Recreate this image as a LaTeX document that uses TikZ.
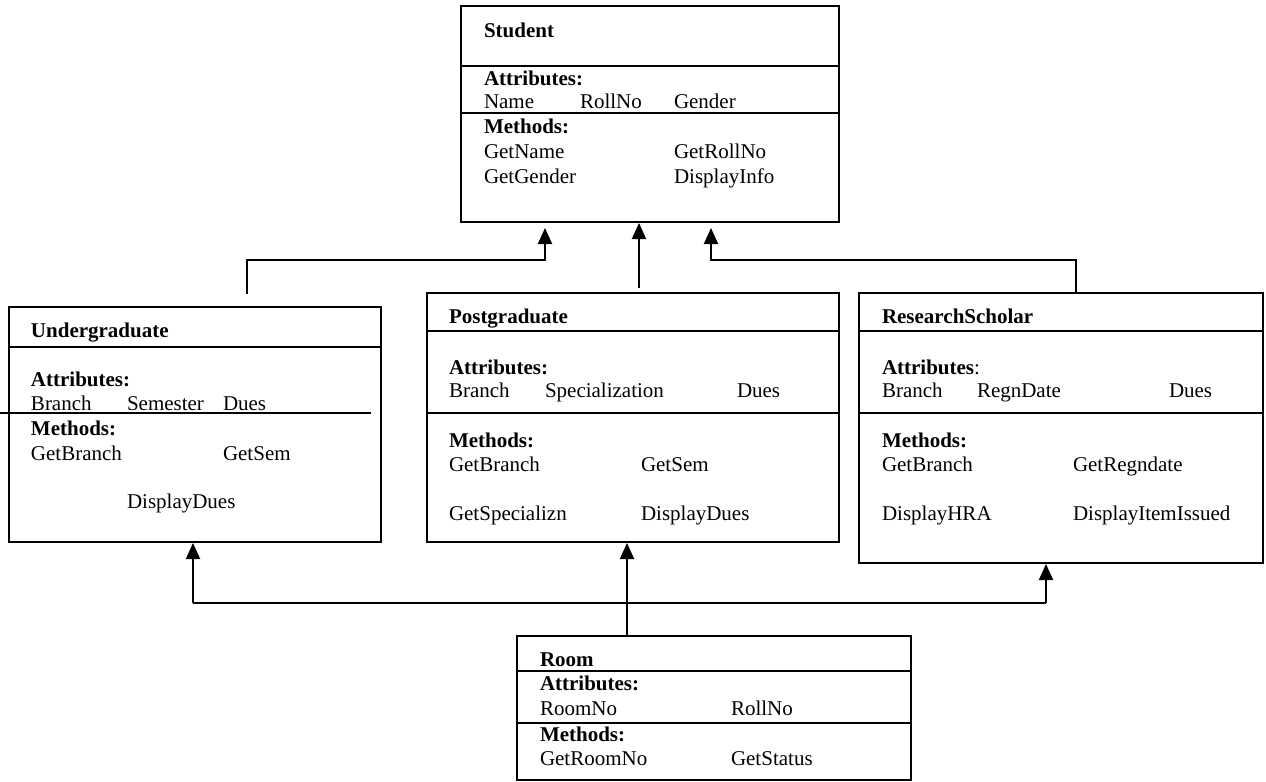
\documentclass[tikz,border=0pt]{standalone}
\usepackage{fontspec}
\setmainfont{Liberation Serif}
\usetikzlibrary{fit,arrows.meta}

\begin{document}
\begin{tikzpicture}
  [x=0.5pt,y=-0.5pt,line width=1pt,
   classbox/.style={draw,rectangle,inner sep=0pt},
   txt/.style={anchor=base west,inner sep=0pt,font=\fontsize{10.5}{12}\selectfont},
   hd/.style={txt,font=\fontsize{10.5}{12}\selectfont\bfseries},
   inh/.style={-{Triangle[width=7pt,length=8pt]}}]
  \useasboundingbox (0,0) rectangle (1266,782);

  \node[classbox,fit={(461,6) (839,222)}] (st) {};
  \node[classbox,fit={(9,307) (381,542)}] (ug) {};
  \node[classbox,fit={(427,293) (839,542)}] (pg) {};
  \node[classbox,fit={(859,293) (1263,563)}] (rs) {};
  \node[classbox,fit={(517,636) (911,780)}] (rm) {};

  \foreach \b/\y in {st/66,st/113,ug/347,pg/331,pg/413,rs/331,rs/413,rm/671,rm/723}
    \draw (\b.west |- 0,\y) -- (\b.east |- 0,\y);
  \draw (0,413) -- (371,413);

  % Student
  \node[hd] (st-t) at (483,37) {Student};
  \node[hd] (st-a) at (483,85) {Attributes:};
  \node[hd] (st-m) at (483,133) {Methods:};
  \foreach \x/\y/\t [count=\i] in {483/108/Name,579/108/RollNo,673/108/Gender,
      483/158/GetName,673/158/GetRollNo,483/183/GetGender,673/183/DisplayInfo}
    \node[txt] (st\i) at (\x,\y) {\t};

  % Undergraduate
  \node[hd] (ug-t) at (30,337) {Undergraduate};
  \node[hd] (ug-a) at (30,386) {Attributes:};
  \node[hd] (ug-m) at (30,435) {Methods:};
  \foreach \x/\y/\t [count=\i] in {30/410/Branch,126/410/Semester,222/410/Dues,
      30/460/GetBranch,222/460/GetSem,126/508/DisplayDues}
    \node[txt] (ug\i) at (\x,\y) {\t};

  % Postgraduate
  \node[hd] (pg-t) at (448,323) {Postgraduate};
  \node[hd] (pg-a) at (448,374) {Attributes:};
  \node[hd] (pg-m) at (448,447) {Methods:};
  \foreach \x/\y/\t [count=\i] in {448/397/Branch,544/397/Specialization,736/397/Dues,
      448/471/GetBranch,640/471/GetSem,448/520/GetSpecializn,640/520/DisplayDues}
    \node[txt] (pg\i) at (\x,\y) {\t};

  % ResearchScholar
  \node[hd] (rs-t) at (881,323) {ResearchScholar};
  \node[txt] (rs-a) at (881,374) {\textbf{Attributes}:};
  \node[hd] (rs-m) at (881,447) {Methods:};
  \foreach \x/\y/\t [count=\i] in {881/397/Branch,976/397/RegnDate,1168/397/Dues,
      881/471/GetBranch,1072/471/GetRegndate,881/520/DisplayHRA,1072/520/DisplayItemIssued}
    \node[txt] (rs\i) at (\x,\y) {\t};

  % Room
  \node[hd] (rm-t) at (539,666) {Room};
  \node[hd] (rm-a) at (539,690) {Attributes:};
  \node[hd] (rm-m) at (539,741) {Methods:};
  \foreach \x/\y/\t [count=\i] in {539/715/RoomNo,730/715/RollNo,539/765/GetRoomNo,730/765/GetStatus}
    \node[txt] (rm\i) at (\x,\y) {\t};

  % inheritance up to Student
  \coordinate (ug-up) at (247,294);
  \coordinate (pg-up) at (639,288);
  \coordinate (rs-up) at (rs.north -| 1076,0);
  \coordinate (st-l) at (545,228);
  \coordinate (st-r) at (711,228);
  \draw[inh] (ug-up) |- (st-l |- 0,260) -- (st-l);
  \draw[inh] (pg-up) -- (st.south -| pg-up);
  \draw[inh] (rs-up) |- (st-r |- 0,260) -- (st-r);

  % Room links
  \coordinate (bus-l) at (193,603);
  \coordinate (bus-m) at (627,603);
  \coordinate (bus-r) at (1046,603);
  \draw (bus-l) -- (bus-r);
  \draw (rm.north -| bus-m) -- (bus-m);
  \foreach \b/\c in {bus-l/ug,bus-m/pg,bus-r/rs}
    \draw[inh] (\b) -- (\c.south -| \b);
\end{tikzpicture}
\end{document}
